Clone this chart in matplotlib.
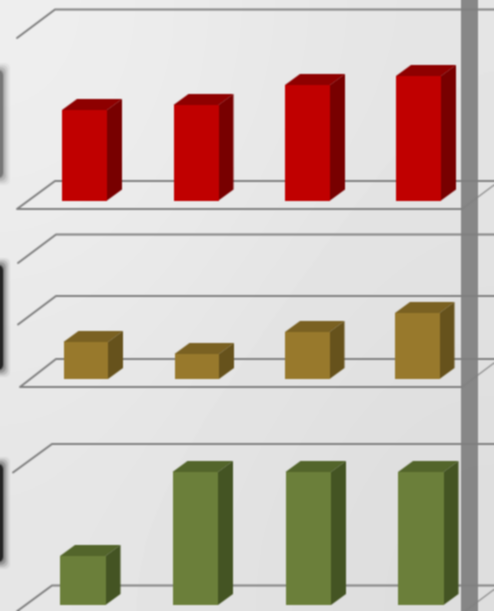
import numpy as np
import matplotlib
matplotlib.use('Agg')
import matplotlib.pyplot as plt
from matplotlib.patches import Polygon, FancyBboxPatch

W, H = 494, 611

# bar heights, in pixels
red_vals = [90.5, 95.5, 115.5, 124.5]
gold_vals = [37, 25, 47, 66]
green_vals = [49, 133, 133, 133]

red_lefts = [62, 173.5, 285, 396]
gold_lefts = [63.5, 174.5, 285, 395]
green_lefts = [60, 172.5, 285.5, 398]

red_cols = ['#c00000', '#8e0000', '#780000']
gold_cols = ['#98792c', '#7a6122', '#66521c']
green_cols = ['#6b7f3a', '#53652b', '#445423']

BAR_W = 45
DX, DY = 15, 11
LINE = '#808080'

fig = plt.figure(figsize=(W / 100, H / 100), dpi=100)
ax = fig.add_axes([0, 0, 1, 1])
ax.set_xlim(0, W)
ax.set_ylim(H, 0)
ax.axis('off')

# background, lighter top left and darker towards the bottom right
bg = np.array([[0.935, 0.895], [0.90, 0.865]])
ax.imshow(bg, cmap='gray', vmin=0, vmax=1, extent=(0, W, H, 0),
          interpolation='bicubic', aspect='auto', zorder=0)


def soft_tab(y0, y1, shade, strength):
    # dark rounded shape cut off by the left edge, with a soft shadow
    for grow, a in [(7, 0.08), (5, 0.14), (3, 0.22), (1, 0.32), (0, strength)]:
        ax.add_patch(FancyBboxPatch((-20, y0 - grow), 23 + grow, y1 - y0 + 2 * grow,
                                    boxstyle='round,pad=0,rounding_size=6',
                                    fc=shade, ec='none', alpha=a, zorder=1))


soft_tab(70, 178, '#666666', 0.7)
soft_tab(265, 370, '#1c1c1c', 0.9)
soft_tab(464, 562, '#1c1c1c', 0.9)


def line(xs, ys, lw=1.4, col=LINE):
    ax.plot(xs, ys, color=col, lw=lw, solid_capstyle='round', zorder=2)


def wall(y_back, x_back=55, x_front=17):
    line([x_front, x_back, W], [y_back + 28.5, y_back, y_back])


def floor(y_back, x_back=55, x_front=17):
    y_front = y_back + 28
    line([W, x_back, x_front, 462], [y_back, y_back, y_front, y_front])
    line([462, W], [y_front, y_front - 24], lw=1.0, col='#949494')


wall(9.5)
floor(181)
wall(234.5, 56, 18)
wall(296, 56, 18)
floor(359, 56, 20)
wall(444, 52, 13)
floor(585.5, 52, 14)


def bars(lefts, vals, base, cols, width=BAR_W):
    ax.bar(lefts, [-v for v in vals], width=width, bottom=base, align='edge',
           color=cols[0], edgecolor='none', zorder=4)
    for x, v in zip(lefts, vals):
        top = base - v
        r = x + width
        ax.add_patch(Polygon([(x, top), (x + DX, top - DY), (r + DX, top - DY), (r, top)],
                             fc=cols[1], ec='none', zorder=3))
        ax.add_patch(Polygon([(r, top), (r + DX, top - DY), (r + DX, base - DY), (r, base)],
                             fc=cols[2], ec='none', zorder=3))


bars(red_lefts, red_vals, 200.5, red_cols)
bars(gold_lefts, gold_vals, 379, gold_cols, 44.5)
bars(green_lefts, green_vals, 605, green_cols, 45.5)

# vertical grey band, the grid lines show through it a little
ax.axvspan(461, 478, color='#808080', alpha=0.93, lw=0, zorder=5)

# the source is a blurry screenshot, so soften the render a bit
fig.canvas.draw()
img = np.asarray(fig.canvas.buffer_rgba())[:, :, :3].astype(float)
img = np.pad(img, ((1, 1), (1, 1), (0, 0)), mode='edge')
img = (img[:-2] + 2 * img[1:-1] + img[2:]) / 4
img = (img[:, :-2] + 2 * img[:, 1:-1] + img[:, 2:]) / 4
plt.imsave('out.png', img.astype(np.uint8))
